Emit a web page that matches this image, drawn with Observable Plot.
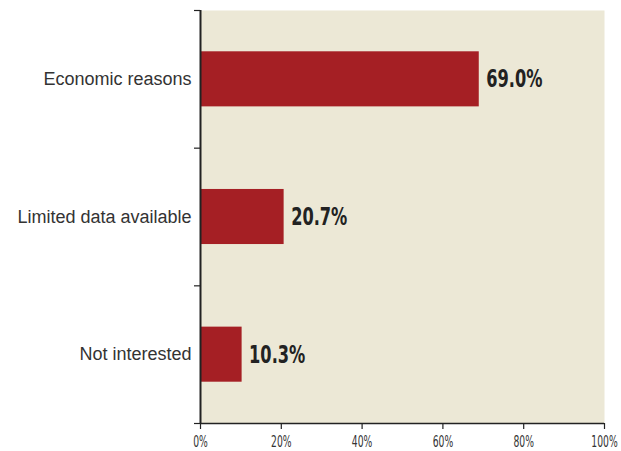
<!DOCTYPE html>
<html>
<head>
<meta charset="utf-8">
<script src="https://cdn.jsdelivr.net/npm/d3@7"></script>
<script src="https://cdn.jsdelivr.net/npm/@observablehq/plot@0.6"></script>
<style>
  html, body { margin: 0; padding: 0; background: #fff; }
  #chart svg { display: block; }
</style>
</head>
<body>
<div id="chart"></div>
<script>
const categories = ["Economic reasons", "Limited data available", "Not interested"];
const values = [69.0, 20.7, 10.3];
const xTicks = [0, 20, 40, 60, 80, 100];

const data = categories.map((c, i) => ({category: c, value: values[i], idx: i}));
const narrow = "'DejaVu Sans Condensed', 'DejaVu Sans', sans-serif";

const chart = Plot.plot({
  width: 621,
  height: 451,
  marginLeft: 200,
  marginRight: 17,
  marginTop: 10,
  marginBottom: 28,
  style: {background: "#fff", color: "#222", fontFamily: "'Liberation Sans', Arial, sans-serif"},
  x: {domain: [0, 100]},
  y: {domain: [categories.length, 0]},
  marks: [
    Plot.frame({fill: "#ECE8D6", stroke: null}),
    Plot.rect(data, {
      x1: () => 0, x2: "value",
      y1: d => d.idx + 0.3, y2: d => d.idx + 0.7,
      fill: "#A51F24"
    }),
    Plot.axisY({ticks: d3.range(categories.length + 1), tickFormat: () => "", tickSize: 6, stroke: "#222", strokeWidth: 1.2, label: null}),
    Plot.axisX({ticks: xTicks, tickFormat: d => d + "%", tickSize: 6, tickPadding: 6, fontSize: 16, fontFamily: narrow, stroke: "#222", strokeWidth: 1.2, fill: "#333", label: null}),
    Plot.ruleX([0], {stroke: "#222", strokeWidth: 2}),
    Plot.ruleY([categories.length], {stroke: "#222", strokeWidth: 1.5}),
    Plot.text(data, {
      x: () => 0, y: d => d.idx + 0.5, text: "category",
      textAnchor: "end", dx: -9, fontSize: 18, fill: "#333"
    }),
    Plot.text(data, {
      x: "value", y: d => d.idx + 0.5, text: d => d.value.toFixed(1) + "%",
      textAnchor: "start", dx: 7, fontSize: 25, fontWeight: "bold", fontFamily: narrow, fill: "#222"
    })
  ]
});
document.getElementById("chart").appendChild(chart);

function squeeze(sel, sx) {
  sel.each(function() {
    const t = d3.select(this);
    let tr = t.attr("transform");
    if (!tr) {
      const x = +t.attr("x") || 0, y = +t.attr("y") || 0;
      t.attr("x", null).attr("y", null);
      tr = `translate(${x},${y})`;
    }
    t.attr("transform", `${tr} scale(${sx},1)`);
  });
}
const textGroups = d3.select(chart).selectAll('g[aria-label="text"]').nodes();
squeeze(d3.select(textGroups[textGroups.length - 1]).selectAll("text"), 0.72);
squeeze(d3.select(chart).selectAll('g[aria-label="x-axis tick label"] text'), 0.64);
</script>
</body>
</html>
